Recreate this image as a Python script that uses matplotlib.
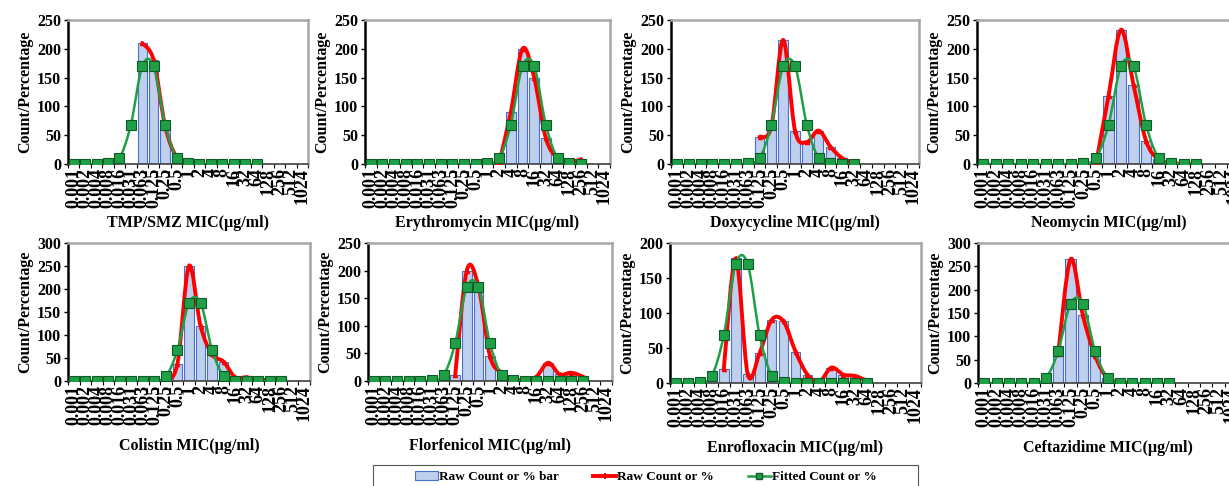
"""MIC distribution panels: raw counts (bars + smoothed red line) and fitted counts (green)."""

import numpy as np
import matplotlib
matplotlib.use("Agg")
import matplotlib.pyplot as plt
from matplotlib.path import Path
from matplotlib.patches import PathPatch, Patch, Rectangle
from matplotlib.lines import Line2D

plt.rcParams['font.family'] = ['Liberation Serif', 'DejaVu Serif']
plt.rcParams['font.weight'] = 'bold'

mic_labels = ['0.001', '0.002', '0.004', '0.008', '0.016', '0.031', '0.063', '0.125',
              '0.25', '0.5', '1', '2', '4', '8', '16', '32', '64', '128', '256', '512', '1024']

drugs = ['TMP/SMZ', 'Erythromycin', 'Doxycycline', 'Neomycin',
         'Colistin', 'Florfenicol', 'Enrofloxacin', 'Ceftazidime']
y_max = [250, 250, 250, 250, 300, 250, 200, 300]

# raw counts: (first MIC index, values)
raw_start = [6, 11, 7, 9, 8, 7, 4, 6]
raw_tmp = [210, 180, 66, 12, 5, 3]
raw_ery = [2, 90, 200, 150, 45, 10, 3, 8]
raw_dox = [47, 65, 215, 58, 38, 58, 30, 10, 2]
raw_neo = [0, 118, 233, 137, 40, 8, 2, 0, 0]
raw_col = [0, 38, 250, 120, 58, 42, 8, 8, 0, 4, 0]
raw_flo = [10, 200, 172, 45, 15, 3, 2, 8, 33, 12, 15, 8]
raw_enr = [20, 178, 13, 43, 90, 88, 45, 12, 2, 22, 12, 10, 3]
raw_cef = [62, 265, 145, 58, 10, 2, 0]

# fitted counts, starting at MIC index 0
fit_tmp = [0, 0, 0, 1, 10, 68, 170, 170, 68, 10, 1, 0, 0, 0, 0, 0, 0]
fit_ery = [0, 0, 0, 0, 0, 0, 0, 0, 0, 0, 1, 10, 68, 170, 170, 68, 10, 1, 0]
fit_dox = [0, 0, 0, 0, 0, 0, 1, 10, 68, 170, 170, 68, 10, 1, 0, 0]
fit_neo = [0, 0, 0, 0, 0, 0, 0, 0, 1, 10, 68, 170, 170, 68, 10, 1, 0, 0]
fit_col = [0, 0, 0, 0, 0, 0, 0, 1, 10, 68, 170, 170, 68, 10, 1, 0, 0, 0, 0]
fit_flo = [0, 0, 0, 0, 0, 1, 10, 68, 170, 170, 68, 10, 1, 0, 0, 0, 0, 0, 0]
fit_enr = [0, 0, 1, 10, 68, 170, 170, 68, 10, 1, 0, 0, 0, 0, 0, 0, 0]
fit_cef = [0, 0, 0, 0, 1, 10, 68, 170, 170, 68, 10, 1, 0, 0, 0, 0]

raw_all = [raw_tmp, raw_ery, raw_dox, raw_neo, raw_col, raw_flo, raw_enr, raw_cef]
fit_all = [fit_tmp, fit_ery, fit_dox, fit_neo, fit_col, fit_flo, fit_enr, fit_cef]

# axes boxes in pixels (left, right, top, bottom-of-plot)
boxes = [(68, 308, 20, 164), (365, 610, 20, 164), (671, 919, 20, 164), (977, 1240, 20, 164),
         (68, 310, 243, 381), (368, 612, 243, 381), (670, 921, 243, 383), (978, 1237, 243, 383)]

W, H = 1229, 486
BAR_FACE = '#BFCFEE'
BAR_EDGE = '#4A6FC7'
RED = '#FF0000'
GREEN = '#1FA046'


def smooth_path(x, y):
    """Excel-style smoothed line as cubic Bezier segments."""
    pts = np.column_stack([x, y]).astype(float)
    n = len(pts)
    verts = [pts[0]]
    codes = [Path.MOVETO]
    for i in range(n - 1):
        p0 = pts[max(i - 1, 0)]
        p1 = pts[i]
        p2 = pts[i + 1]
        p3 = pts[min(i + 2, n - 1)]
        verts += [p1 + (p2 - p0) / 6, p2 - (p3 - p1) / 6, p2]
        codes += [Path.CURVE4] * 3
    return Path(verts, codes)


fig = plt.figure(figsize=(W / 100, H / 100), dpi=100)
x_all = np.arange(len(mic_labels))

for k, drug in enumerate(drugs):
    l, r, t, b = boxes[k]
    ax = fig.add_axes([l / W, 1 - b / H, (r - l) / W, (b - t) / H])

    raw_x = np.arange(raw_start[k], raw_start[k] + len(raw_all[k]))
    raw_y = np.array(raw_all[k], dtype=float)
    fit_x = np.arange(len(fit_all[k]))
    fit_y = np.array(fit_all[k], dtype=float)

    ax.bar(raw_x, raw_y, width=0.82, color=BAR_FACE, edgecolor=BAR_EDGE, linewidth=0.8, zorder=2)
    ax.add_patch(PathPatch(smooth_path(raw_x, raw_y), fill=False, edgecolor=RED,
                           linewidth=2.8, zorder=3, capstyle='round'))
    ax.plot(raw_x, raw_y, ls='none', marker='^', ms=3, color=RED, zorder=3)
    ax.add_patch(PathPatch(smooth_path(fit_x, fit_y), fill=False, edgecolor=GREEN,
                           linewidth=1.8, zorder=4))
    ax.plot(fit_x, fit_y, ls='none', marker='s', ms=6.5, markerfacecolor=GREEN,
            markeredgecolor='#0E5A26', markeredgewidth=0.8, zorder=5)

    ax.set_xlim(-0.5, len(mic_labels) - 0.5)
    ax.set_ylim(0, y_max[k])
    ax.set_yticks(np.arange(0, y_max[k] + 1, 50))
    ax.set_xticks(x_all)
    ax.set_xticklabels(mic_labels, rotation=90, fontsize=13, fontweight='bold')
    ax.set_xticks(np.arange(-0.5, len(mic_labels), 1), minor=True)
    ax.tick_params(axis='x', which='major', length=0, pad=3)
    ax.tick_params(axis='x', which='minor', length=3, direction='out', width=0.8)
    ax.tick_params(axis='y', length=3, direction='out', width=1, pad=2, labelsize=11.5)
    for lab in ax.get_yticklabels():
        lab.set_fontweight('bold')

    ax.spines['left'].set_color('black')
    ax.spines['left'].set_linewidth(1.8)
    ax.spines['bottom'].set_color('#404040')
    ax.spines['bottom'].set_linewidth(1.2)
    for side in ['top', 'right']:
        ax.spines[side].set_color('#A6A6A6')
        ax.spines[side].set_linewidth(1.8)

    ax.set_ylabel('Count/Percentage', fontsize=11.5, fontweight='bold', labelpad=3)
    ax.set_xlabel(f'{drug} MIC(µg/ml)', fontsize=11.5, fontweight='bold')
    label_top = -0.355 if k < 4 else -0.41
    ax.xaxis.set_label_coords(0.5, label_top)

handles = [Patch(facecolor=BAR_FACE, edgecolor=BAR_EDGE, linewidth=0.8),
           Line2D([], [], color=RED, linewidth=2.8, marker='+', ms=5, markeredgewidth=1.5),
           Line2D([], [], color=GREEN, linewidth=1.8, marker='s', ms=5,
                  markerfacecolor=GREEN, markeredgecolor='#0E5A26')]
fig.legend(handles, ['Raw Count or % bar', 'Raw Count or %', 'Fitted Count or %'],
           loc='center', bbox_to_anchor=(646 / W, 1 - 477 / H), ncol=3, frameon=False,
           prop={'weight': 'bold', 'size': 9.5}, handlelength=1.7, handletextpad=0.1,
           columnspacing=2.6)
fig.patches.append(Rectangle((373 / W, -0.05), 545 / W, 0.05 + 1 - 465 / H,
                             transform=fig.transFigure, fill=False,
                             edgecolor='#555555', linewidth=0.8))

fig.savefig('out.png', dpi=100)
